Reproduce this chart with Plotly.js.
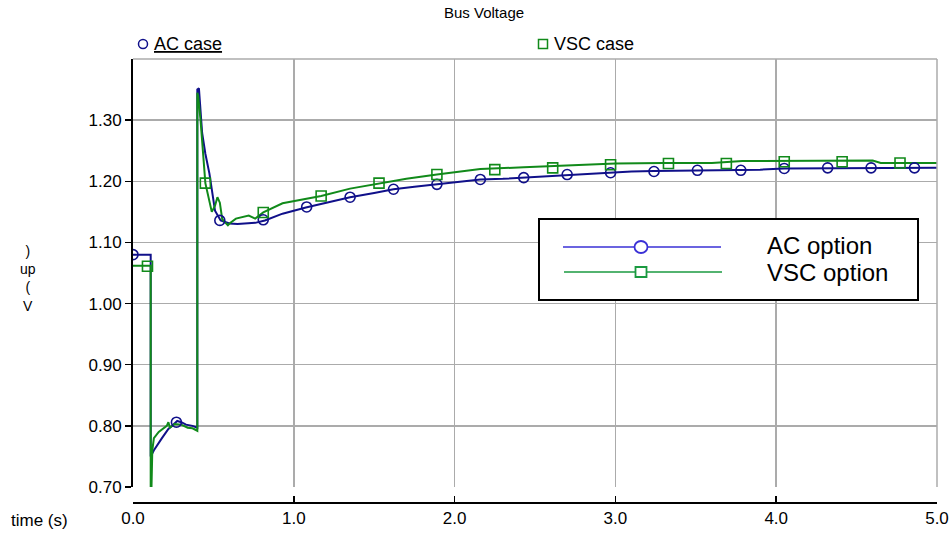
<!DOCTYPE html>
<html><head><meta charset="utf-8">
<script src="https://cdn.plot.ly/plotly-3.0.1.min.js"></script>
<style>html,body{margin:0;padding:0;background:#fff}#c{width:949px;height:535px}</style>
</head><body><div id="c"></div>
<script>
// ---- data ----
const acT = [0, 0.11, 0.11, 0.13, 0.18, 0.22, 0.25, 0.275, 0.30, 0.33, 0.37, 0.40, 0.40, 0.41, 0.43, 0.45, 0.475, 0.51, 0.545, 0.6, 0.65, 0.72, 0.76, 0.82, 0.93, 1.075, 1.2, 1.35, 1.5, 1.62, 1.75, 1.89, 2.0, 2.16, 2.3, 2.43, 2.55, 2.70, 2.85, 2.975, 3.1, 3.24, 3.51, 3.78, 3.9, 4.05, 4.5, 5.0];
const acV = [1.08, 1.08, 0.75, 0.76, 0.78, 0.795, 0.802, 0.808, 0.806, 0.802, 0.80, 0.797, 1.35, 1.352, 1.279, 1.245, 1.213, 1.152, 1.136, 1.131, 1.130, 1.131, 1.132, 1.136, 1.147, 1.157, 1.165, 1.174, 1.181, 1.187, 1.191, 1.195, 1.198, 1.203, 1.204, 1.206, 1.208, 1.211, 1.213, 1.215, 1.216, 1.217, 1.218, 1.218, 1.219, 1.221, 1.222, 1.222];
const vscT = [0, 0.11, 0.11, 0.115, 0.12, 0.13, 0.16, 0.21, 0.22, 0.23, 0.26, 0.30, 0.34, 0.37, 0.40, 0.40, 0.405, 0.42, 0.45, 0.475, 0.49, 0.51, 0.525, 0.54, 0.555, 0.59, 0.60, 0.64, 0.68, 0.72, 0.76, 0.81, 0.93, 1.025, 1.17, 1.35, 1.54, 1.7, 1.89, 2.04, 2.16, 2.43, 2.7, 3.0, 3.3, 3.6, 3.79, 4.2, 4.6, 4.65, 5.0];
const vscV = [1.062, 1.062, 0.68, 0.70, 0.76, 0.78, 0.79, 0.80, 0.806, 0.797, 0.803, 0.802, 0.797, 0.796, 0.792, 1.345, 1.34, 1.30, 1.197, 1.164, 1.150, 1.16, 1.174, 1.165, 1.138, 1.128, 1.131, 1.139, 1.141, 1.144, 1.139, 1.149, 1.164, 1.169, 1.176, 1.188, 1.197, 1.204, 1.211, 1.216, 1.220, 1.223, 1.226, 1.229, 1.230, 1.230, 1.233, 1.233, 1.234, 1.230, 1.230];
const acMarkT = [0.0, 0.27, 0.54, 0.81, 1.08, 1.35, 1.62, 1.89, 2.16, 2.43, 2.70, 2.97, 3.24, 3.51, 3.78, 4.05, 4.32, 4.59, 4.86];
const acMarkV = [1.08, 0.806, 1.136, 1.137, 1.158, 1.174, 1.187, 1.195, 1.203, 1.206, 1.211, 1.214, 1.216, 1.218, 1.218, 1.221, 1.222, 1.222, 1.222];
const vscMarkT = [0.09, 0.45, 0.81, 1.17, 1.53, 1.89, 2.25, 2.61, 2.97, 3.33, 3.69, 4.05, 4.41, 4.77];
const vscMarkV = [1.061, 1.197, 1.149, 1.176, 1.197, 1.211, 1.219, 1.222, 1.227, 1.229, 1.229, 1.232, 1.232, 1.230];
const yTicks = [0.70, 0.80, 0.90, 1.00, 1.10, 1.20, 1.30];
const yTickText = ["0.70", "0.80", "0.90", "1.00", "1.10", "1.20", "1.30"];
const xTicks = [0, 1, 2, 3, 4, 5];
const xTickText = ["0.0", "1.0", "2.0", "3.0", "4.0", "5.0"];
const seriesNames = ["AC case", "VSC case"];
const legendNames = ["AC option", "VSC option"];
const yTitleChars = [")", "up", "(", "V"];   // "V (pu)" stacked bottom-to-top

// ---- styling ----
const FONT = "Liberation Sans, Arial, sans-serif";
const AC = "#10108a", VSC = "#118a1a";
const LEG_AC = "#3a30d6", LEG_VSC = "#1a9a40";
const W = 949, H = 535, L = 133, R = 12, T = 59, B = 32;
const pw = W - L - R, ph = H - T - B;
const px = v => (v - L) / pw;
const py = v => (H - B - v) / ph;
const txt = (text, x, y, size, anchor, extra) => Object.assign({
  text: text, x: px(x), y: py(y), xref: "paper", yref: "paper", showarrow: false,
  xanchor: anchor || "center", yanchor: "middle", font: {family: FONT, size: size, color: "#000"}
}, extra || {});

const traces = [
  {x: acT, y: acV, mode: "lines", line: {color: AC, width: 2}, showlegend: false, hoverinfo: "skip"},
  {x: vscT, y: vscV, mode: "lines", line: {color: VSC, width: 2}, showlegend: false, hoverinfo: "skip"},
  {x: acMarkT, y: acMarkV, mode: "markers", marker: {symbol: "circle-open", size: 10, color: AC, line: {width: 1.6, color: AC}}, showlegend: false, hoverinfo: "skip"},
  {x: vscMarkT, y: vscMarkV, mode: "markers", marker: {symbol: "square-open", size: 10, color: VSC, line: {width: 1.6, color: VSC}}, showlegend: false, hoverinfo: "skip"},
  {x: acT, y: acV, xaxis: "x2", mode: "none", showlegend: false, hoverinfo: "skip"}
];

const annotations = [
  txt("Bus Voltage", 484, 13, 15),
  txt("<u>" + seriesNames[0] + "</u>", 152, 44, 18, "left"),
  txt(seriesNames[1], 552, 44, 18, "left"),
  txt(legendNames[0], 765, 245, 24, "left"),
  txt(legendNames[1], 765, 272, 24, "left"),
  txt("time (s)", 39, 520, 17),
  txt(yTitleChars.join("<br>"), 28, 278, 14, "center", {borderpad: 0})
];

const shapes = [
  // plot frame (top and right)
  {type: "line", xref: "paper", yref: "paper", x0: 0, x1: 1, y0: 1, y1: 1, line: {color: "#ababab", width: 1.5}},
  {type: "line", xref: "paper", yref: "paper", x0: 1, x1: 1, y0: py(487), y1: 1, line: {color: "#ababab", width: 1.5}},
  // top legend symbols
  {type: "circle", xref: "paper", yref: "paper", xsizemode: "pixel", ysizemode: "pixel", xanchor: px(143), yanchor: py(44), x0: -4.5, x1: 4.5, y0: -4.5, y1: 4.5, line: {color: AC, width: 1.5}},
  {type: "rect", xref: "paper", yref: "paper", xsizemode: "pixel", ysizemode: "pixel", xanchor: px(543), yanchor: py(44), x0: -4.5, x1: 4.5, y0: -4.5, y1: 4.5, line: {color: VSC, width: 1.5}},
  // boxed legend
  {type: "rect", xref: "paper", yref: "paper", x0: px(539), x1: px(918), y0: py(300), y1: py(219), fillcolor: "#fff", line: {color: "#000", width: 2}},
  {type: "line", xref: "paper", yref: "paper", x0: px(563), x1: px(721), y0: py(247), y1: py(247), line: {color: LEG_AC, width: 1.5}},
  {type: "circle", xref: "paper", yref: "paper", xsizemode: "pixel", ysizemode: "pixel", xanchor: px(641), yanchor: py(247), x0: -6.5, x1: 6.5, y0: -6, y1: 6, fillcolor: "#fff", line: {color: LEG_AC, width: 1.8}},
  {type: "line", xref: "paper", yref: "paper", x0: px(564), x1: px(722), y0: py(272), y1: py(272), line: {color: LEG_VSC, width: 1.5}},
  {type: "rect", xref: "paper", yref: "paper", xsizemode: "pixel", ysizemode: "pixel", xanchor: px(641), yanchor: py(272), x0: -5.5, x1: 5.5, y0: -5, y1: 5, fillcolor: "#fff", line: {color: LEG_VSC, width: 1.8}}
];

const layout = {
  width: W, height: H,
  margin: {l: L, r: R, t: T, b: B, pad: 0},
  paper_bgcolor: "#fff", plot_bgcolor: "#fff",
  showlegend: false,
  font: {family: FONT, size: 17, color: "#000"},
  xaxis: {
    range: [0, 5], anchor: "y", showgrid: true, gridcolor: "#ababab", gridwidth: 1.5,
    zeroline: false, showline: false, showticklabels: false, ticks: "", tickvals: xTicks
  },
  xaxis2: {
    range: [0, 5], overlaying: "x", anchor: "free", position: 0, side: "bottom",
    showgrid: false, zeroline: false, showline: true, linecolor: "#000", linewidth: 2,
    ticks: "inside", ticklen: 6, tickwidth: 1.5, tickcolor: "#000",
    tickvals: xTicks, ticktext: xTickText, tickfont: {family: FONT, size: 17, color: "#000"}
  },
  yaxis: {
    range: [0.70, 1.40], domain: [py(487), 1],
    showgrid: true, gridcolor: "#ababab", gridwidth: 1.5, zeroline: false,
    showline: true, linecolor: "#000", linewidth: 2,
    ticks: "outside", ticklen: 6, tickwidth: 1.5, tickcolor: "#000",
    tickvals: yTicks, ticktext: yTickText, tickfont: {family: FONT, size: 17, color: "#000"}
  },
  annotations: annotations,
  shapes: shapes
};

Plotly.newPlot("c", traces, layout, {staticPlot: true, displayModeBar: false});
</script></body></html>
